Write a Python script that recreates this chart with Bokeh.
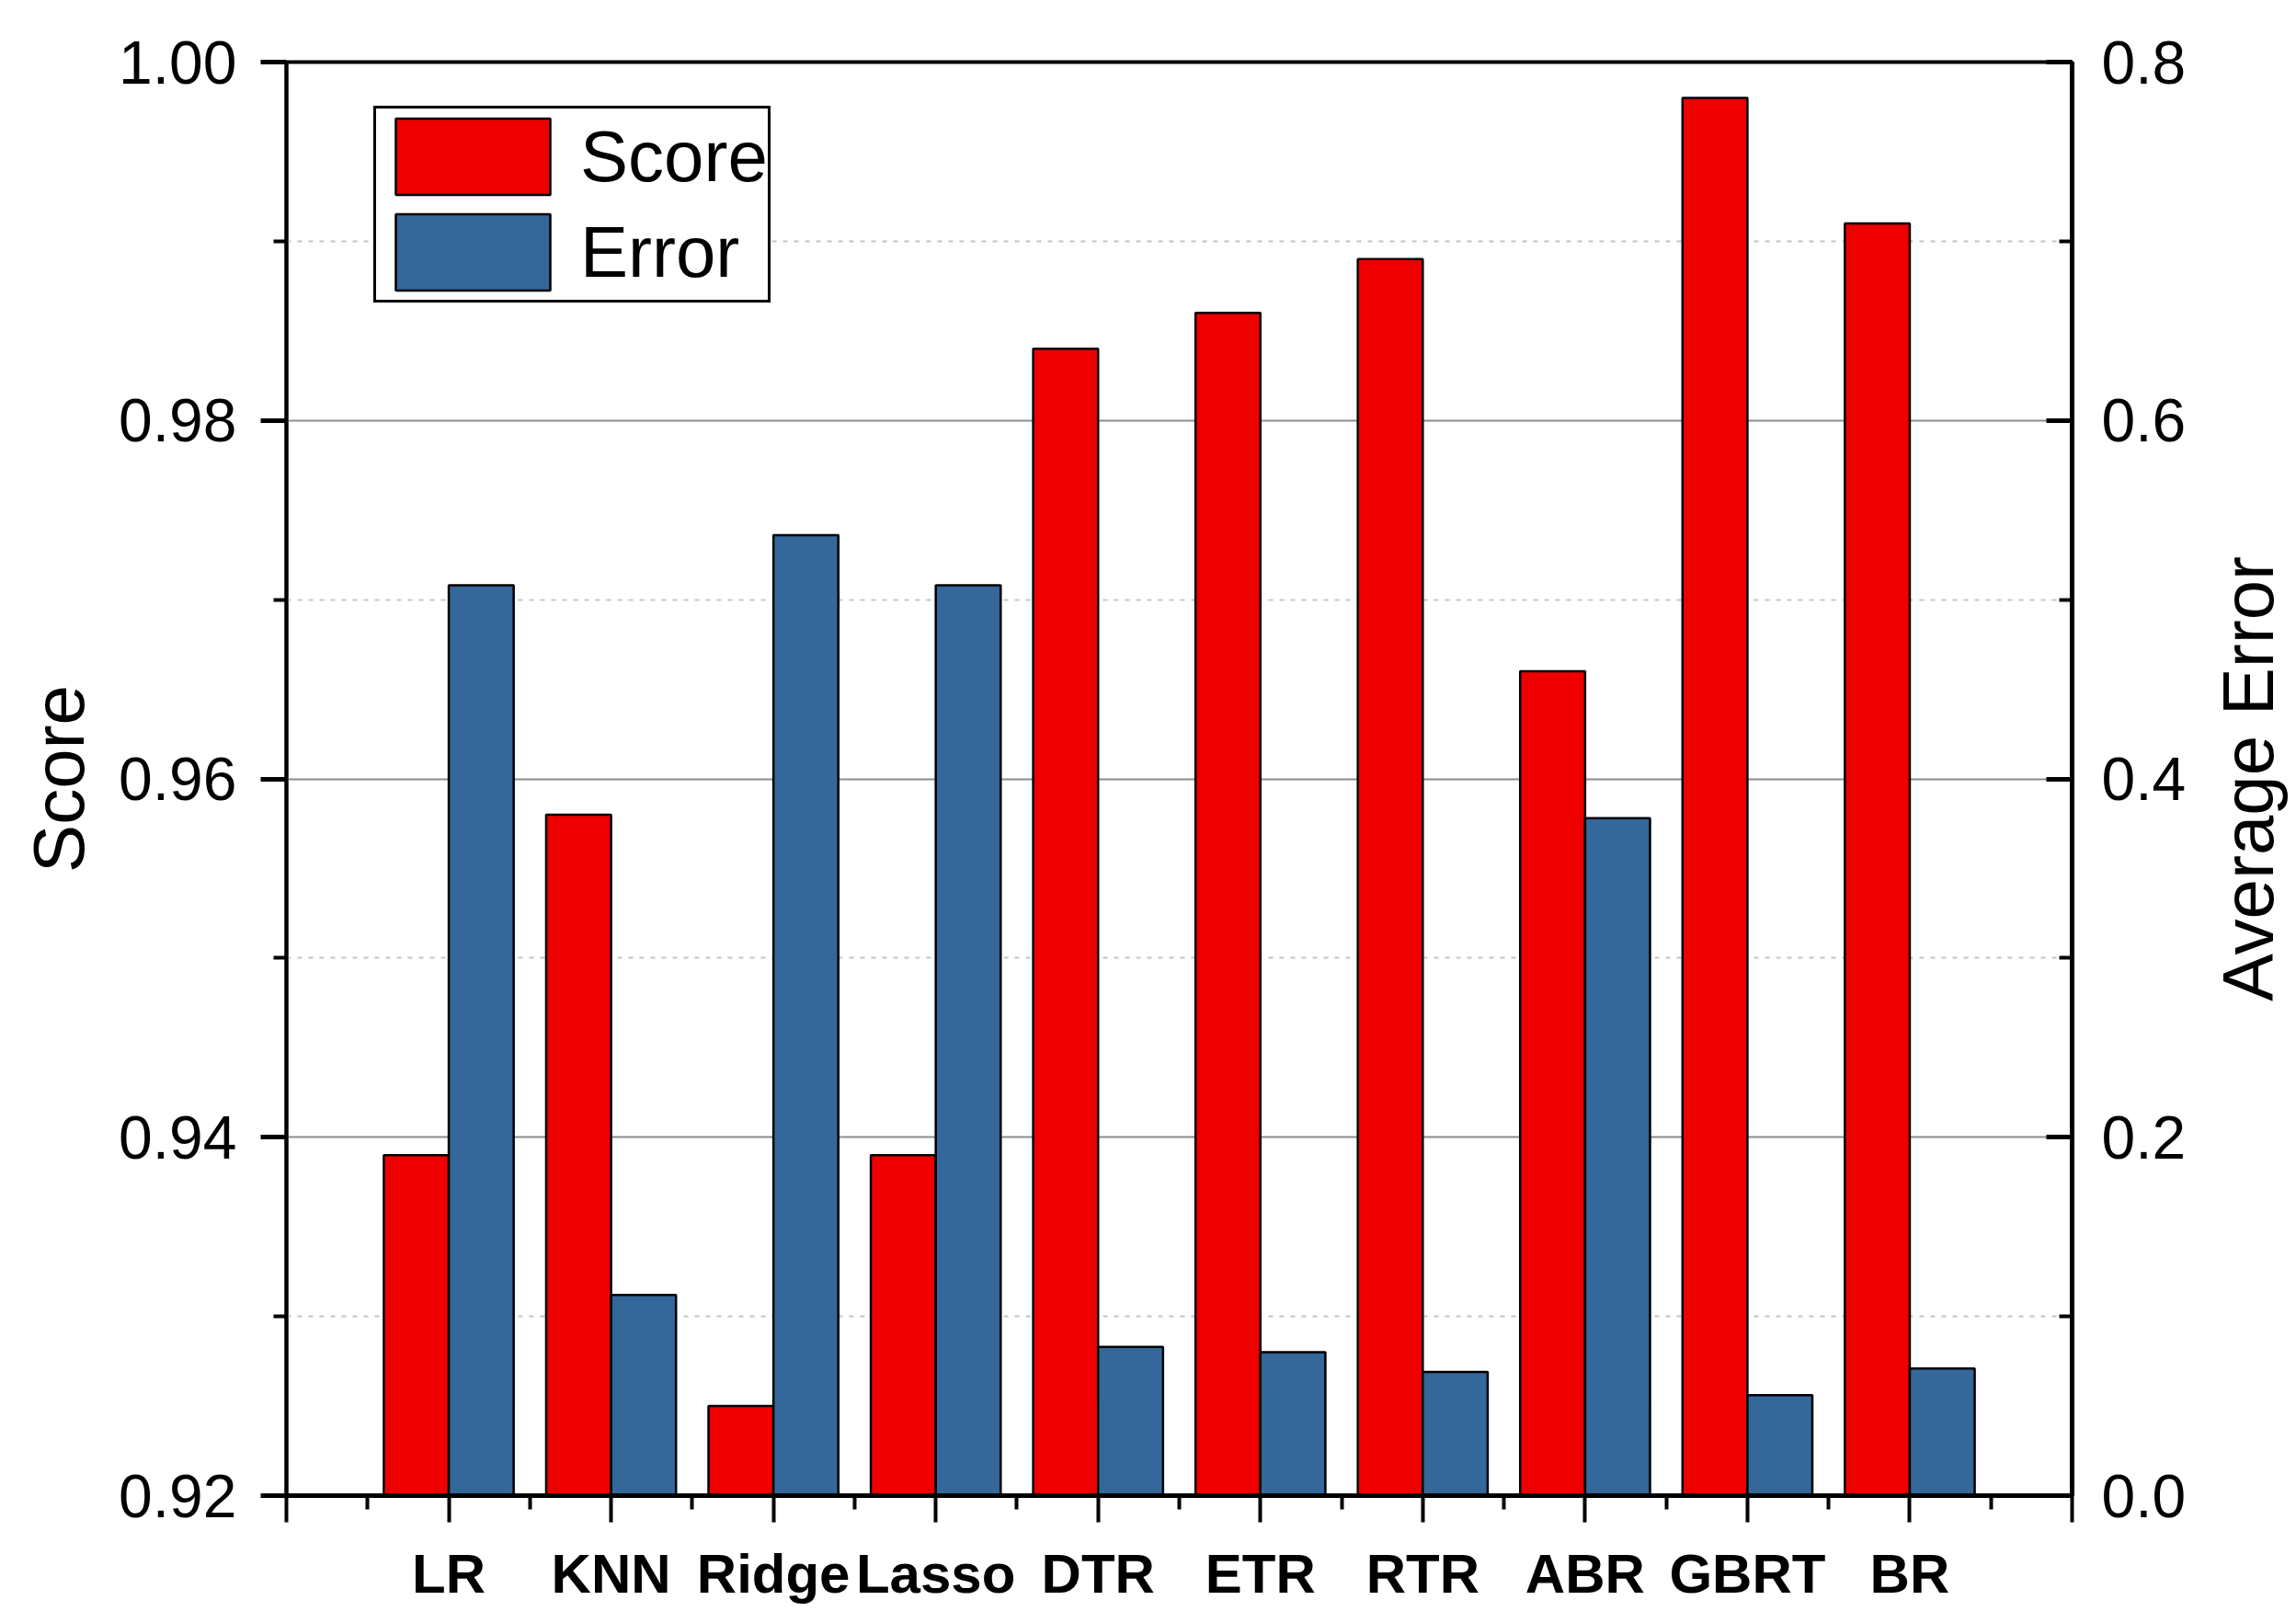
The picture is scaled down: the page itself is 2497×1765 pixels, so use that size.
import math
from bokeh.plotting import figure
from bokeh.models import (Range1d, LinearAxis, FixedTicker, PrintfTickFormatter,
                          Legend, LegendItem, Label)
from bokeh.embed import file_html
from bokeh.resources import INLINE

categories = ["LR", "KNN", "Ridge", "Lasso", "DTR", "ETR", "RTR", "ABR", "GBRT", "BR"]
score = [0.939, 0.958, 0.925, 0.939, 0.984, 0.986, 0.989, 0.966, 0.998, 0.991]
error = [0.508, 0.112, 0.536, 0.508, 0.083, 0.080, 0.069, 0.378, 0.056, 0.071]
score_ticks = [0.92, 0.94, 0.96, 0.98, 1.00]
score_minor = [0.93, 0.95, 0.97, 0.99]
error_ticks = [0.0, 0.2, 0.4, 0.6, 0.8]
error_minor = [0.1, 0.3, 0.5, 0.7]

FONT = "Liberation Sans"
RED = "#ee0000"
BLUE = "#34679a"

n = len(categories)
xs = list(range(1, n + 1))

p = figure(width=2497, height=1765, output_backend="svg", toolbar_location=None,
           x_range=Range1d(0, n + 1), y_range=Range1d(score_ticks[0], score_ticks[-1]),
           min_border_left=311, min_border_right=244, min_border_top=67,
           min_border_bottom=139)
p.extra_y_ranges = {"err": Range1d(error_ticks[0], error_ticks[-1])}
p.outline_line_color = "black"
p.outline_line_width = 4
p.outline_line_alpha = 1
p.background_fill_color = "white"
p.border_fill_color = "white"

r1 = p.vbar(x=[x - 0.2 for x in xs], top=score, bottom=score_ticks[0], width=0.4,
            fill_color=RED, line_color="black", line_width=2.5)
r2 = p.vbar(x=[x + 0.2 for x in xs], top=error, bottom=error_ticks[0], width=0.4,
            fill_color=BLUE, line_color="black", line_width=2.5, y_range_name="err")

# x axis
xt = FixedTicker(ticks=list(range(0, n + 2)), minor_ticks=[x + 0.5 for x in range(0, n + 1)])
xa = p.xaxis[0]
xa.ticker = xt
xa.major_label_overrides = {i: (categories[i - 1] if 1 <= i <= n else "") for i in range(0, n + 2)}
xa.major_label_text_font = FONT
xa.major_label_text_font_style = "bold"
xa.major_label_text_font_size = "60px"
xa.major_label_text_color = "black"
xa.major_label_standoff = 22
xa.axis_line_width = 5
xa.axis_line_color = "black"
xa.major_tick_out = 29
xa.major_tick_in = 0
xa.major_tick_line_width = 4
xa.minor_tick_out = 15
xa.minor_tick_in = 0
xa.minor_tick_line_width = 4
p.xgrid.grid_line_color = None

# left y axis
yt = FixedTicker(ticks=score_ticks, minor_ticks=score_minor)
ya = p.yaxis[0]
ya.ticker = yt
ya.formatter = PrintfTickFormatter(format="%.2f")
ya.axis_label = "Score"
ya.axis_label_text_font = FONT
ya.axis_label_text_font_style = "normal"
ya.axis_label_text_font_size = "78px"
ya.axis_label_text_color = "black"
ya.axis_label_standoff = 18
ya.major_label_text_font = FONT
ya.major_label_text_font_size = "66px"
ya.major_label_text_color = "black"
ya.major_label_standoff = 26
ya.axis_line_width = 4
ya.axis_line_color = "black"
ya.major_tick_out = 28
ya.major_tick_in = 0
ya.major_tick_line_width = 5
ya.minor_tick_out = 14
ya.minor_tick_in = 0
ya.minor_tick_line_width = 4

g = p.ygrid[0]
g.ticker = yt
g.grid_line_color = "#8c8c8c"
g.grid_line_width = 2
g.minor_grid_line_color = "#c4c4c4"
g.minor_grid_line_width = 2
g.minor_grid_line_dash = "5 7"

# right y axis
ra = LinearAxis(y_range_name="err",
                ticker=FixedTicker(ticks=error_ticks, minor_ticks=error_minor),
                formatter=PrintfTickFormatter(format="%.1f"))
ra.major_label_text_font = FONT
ra.major_label_text_font_size = "66px"
ra.major_label_text_color = "black"
ra.major_label_standoff = 32
ra.axis_line_width = 5
ra.axis_line_color = "black"
ra.major_tick_in = 28
ra.major_tick_out = 0
ra.major_tick_line_width = 5
ra.minor_tick_in = 14
ra.minor_tick_out = 0
ra.minor_tick_line_width = 4
p.add_layout(ra, "right")

# right axis title, reading bottom-to-top as in the reference
right_title = Label(x=n + 1 + 1.085, y=0.4, y_range_name="err", text="Average Error",
                    angle=math.pi / 2, text_align="center", text_baseline="middle",
                    text_font=FONT, text_font_size="78px", text_color="black")
p.add_layout(right_title, "right")

legend = Legend(items=[LegendItem(label="Score", renderers=[r1]),
                       LegendItem(label="Error", renderers=[r2])],
                location=(95, 1297), orientation="vertical")
legend.glyph_width = 210
legend.glyph_height = 104
legend.label_height = 104
legend.label_text_font = FONT
legend.label_text_font_size = "78px"
legend.label_text_color = "black"
legend.label_standoff = 12
legend.spacing = 0
legend.padding = 0
legend.margin = 0
legend.border_line_color = "black"
legend.border_line_width = 3
legend.border_line_alpha = 1
legend.background_fill_color = "white"
legend.background_fill_alpha = 1
p.add_layout(legend)

open("out.html", "w").write(file_html(p, INLINE))
